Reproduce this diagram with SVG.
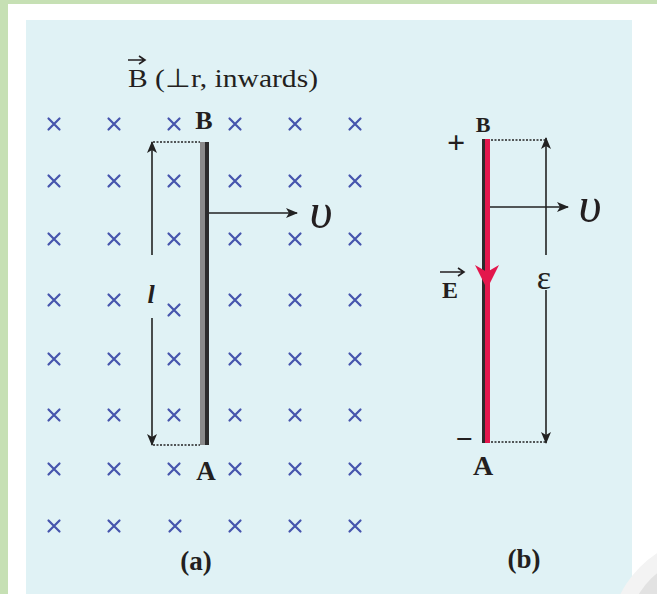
<svg xmlns="http://www.w3.org/2000/svg" width="657" height="594" viewBox="0 0 657 594">
<defs>
<style>
.t{font-family:"Liberation Serif","Times New Roman",serif;fill:#231f20}
.b{font-weight:bold}
.x{stroke:#4655ad;stroke-width:2.2;stroke-linecap:round;fill:none}
.dim{stroke:#222;stroke-width:1.6;fill:none}
.dot{stroke:#222;stroke-width:1.5;stroke-dasharray:2 1.5;fill:none}
</style>
<marker id="ah" viewBox="0 0 12 10" refX="11" refY="5" markerWidth="12" markerHeight="10" markerUnits="userSpaceOnUse" orient="auto">
<path d="M0,0 L12,5 L0,10 L3,5 Z" fill="#222"/>
</marker>
<g id="cross"><path class="x" d="M-5.5,-5.5 L5.5,5.5 M5.5,-5.5 L-5.5,5.5"/></g>
</defs>

<rect width="657" height="594" fill="#c6e0b4"/>
<rect x="8" y="4" width="649" height="590" fill="#ffffff"/>
<rect x="26" y="20" width="606" height="574" fill="#e0f2f5"/>
<circle cx="715" cy="642" r="106" fill="#f3f3f3"/>
<circle cx="715" cy="642" r="90" fill="#e2e2e2"/>

<g id="field">
<use href="#cross" x="54" y="124"/><use href="#cross" x="114" y="124"/><use href="#cross" x="174" y="124"/><use href="#cross" x="235" y="124"/><use href="#cross" x="295" y="124"/><use href="#cross" x="355" y="124"/>
<use href="#cross" x="54" y="181"/><use href="#cross" x="114" y="181"/><use href="#cross" x="174" y="181"/><use href="#cross" x="235" y="181"/><use href="#cross" x="295" y="181"/><use href="#cross" x="355" y="181"/>
<use href="#cross" x="54" y="239"/><use href="#cross" x="114" y="239"/><use href="#cross" x="174" y="239"/><use href="#cross" x="235" y="239"/><use href="#cross" x="295" y="239"/><use href="#cross" x="355" y="239"/>
<use href="#cross" x="54" y="300"/><use href="#cross" x="114" y="300"/><use href="#cross" x="174" y="310"/><use href="#cross" x="235" y="300"/><use href="#cross" x="295" y="300"/><use href="#cross" x="355" y="300"/>
<use href="#cross" x="54" y="359"/><use href="#cross" x="114" y="359"/><use href="#cross" x="174" y="359"/><use href="#cross" x="235" y="359"/><use href="#cross" x="295" y="359"/><use href="#cross" x="355" y="359"/>
<use href="#cross" x="54" y="415"/><use href="#cross" x="114" y="415"/><use href="#cross" x="174" y="415"/><use href="#cross" x="235" y="415"/><use href="#cross" x="295" y="415"/><use href="#cross" x="355" y="415"/>
<use href="#cross" x="54" y="469"/><use href="#cross" x="114" y="469"/><use href="#cross" x="174" y="469"/><use href="#cross" x="235" y="469"/><use href="#cross" x="295" y="469"/><use href="#cross" x="355" y="469"/>
<use href="#cross" x="54" y="526"/><use href="#cross" x="114" y="526"/><use href="#cross" x="175" y="526"/><use href="#cross" x="235" y="526"/><use href="#cross" x="295" y="526"/><use href="#cross" x="355" y="526"/>
</g>

<g id="title">
<text class="t" x="128" y="87" font-size="26" textLength="190" lengthAdjust="spacingAndGlyphs">B (⊥r, inwards)</text>
<path d="M128,60 L144,60 M139,56 L145,60 L139,64" stroke="#231f20" stroke-width="1.6" fill="none"/>
</g>

<g id="rod-a">
<rect x="200" y="142" width="5" height="303" fill="#8a8a8a"/>
<rect x="205" y="142" width="4" height="303" fill="#2b2b2b"/>
<text class="t b" x="204" y="129" font-size="26" text-anchor="middle">B</text>
<text class="t b" x="206" y="480" font-size="27" text-anchor="middle">A</text>
</g>

<g id="rod-b">
<rect x="482" y="139" width="3" height="304" fill="#2b2b2b"/>
<rect x="485" y="139" width="5" height="304" fill="#e3174c"/>
<path d="M475,265 L487,272 L499,265 L487,289 Z" fill="#e3174c"/>
<text class="t b" x="483" y="132" font-size="22" text-anchor="middle">B</text>
<text class="t b" x="483" y="475" font-size="28" text-anchor="middle">A</text>
<text class="t b" x="456" y="153" font-size="32" text-anchor="middle">+</text>
<text class="t b" x="464" y="449" font-size="30" text-anchor="middle">−</text>
<text class="t b" x="450" y="298" font-size="24" text-anchor="middle">E</text>
<path d="M440,272 L463,272 M458,268 L464,272 L458,276" stroke="#231f20" stroke-width="1.6" fill="none"/>
</g>

<g id="connectors">
<path class="dot" d="M153,142 L200,142"/>
<path class="dot" d="M153,445 L200,445"/>
<path class="dim" d="M152,255 L152,142" marker-end="url(#ah)"/>
<path class="dim" d="M152,318 L152,445" marker-end="url(#ah)"/>
<path class="dim" d="M209,213 L297,213" marker-end="url(#ah)"/>
<path class="dot" d="M491,140 L545,140"/>
<path class="dot" d="M491,442 L545,442"/>
<path class="dim" d="M546,255 L546,138" marker-end="url(#ah)"/>
<path class="dim" d="M546,290 L546,443" marker-end="url(#ah)"/>
<path class="dim" d="M490,207 L568,207" marker-end="url(#ah)"/>
</g>

<g id="labels">
<text class="t b" x="151" y="303" font-size="26" font-style="italic" text-anchor="middle">l</text>
<text class="t" x="321" y="228" font-size="50" font-style="italic" text-anchor="middle">υ</text>
<text class="t" x="590" y="222" font-size="50" font-style="italic" text-anchor="middle">υ</text>
<text class="t" x="544" y="289" font-size="34" text-anchor="middle">ε</text>
<text class="t b" x="196" y="570" font-size="27" text-anchor="middle">(a)</text>
<text class="t b" x="524" y="568" font-size="27" text-anchor="middle">(b)</text>
</g>
</svg>
